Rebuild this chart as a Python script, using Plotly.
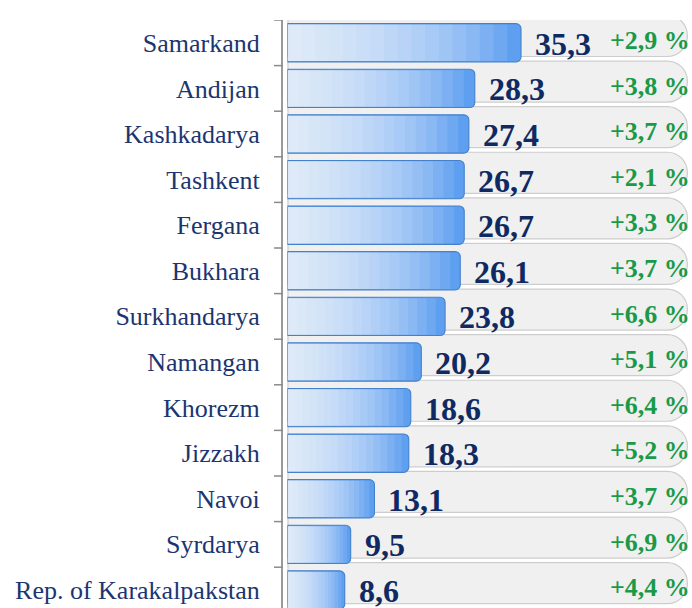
import plotly.graph_objects as go

regions = ["Samarkand", "Andijan", "Kashkadarya", "Tashkent", "Fergana", "Bukhara",
           "Surkhandarya", "Namangan", "Khorezm", "Jizzakh", "Navoi", "Syrdarya",
           "Rep. of Karakalpakstan"]
values = [35.3, 28.3, 27.4, 26.7, 26.7, 26.1, 23.8, 20.2, 18.6, 18.3, 13.1, 9.5, 8.6]
growth = ["+2,9 %", "+3,8 %", "+3,7 %", "+2,1 %", "+3,3 %", "+3,7 %", "+6,6 %",
          "+5,1 %", "+6,4 %", "+5,2 %", "+3,7 %", "+6,9 %", "+4,4 %"]

SERIF = "Liberation Serif, Times New Roman, serif"
pos = list(range(len(regions)))
track_len = 60.5

fig = go.Figure()

# background grey pill tracks
fig.add_trace(go.Bar(
    y=pos, x=[track_len] * len(regions), orientation="h",
    width=0.9, offset=-0.6,
    marker=dict(color="#f0f0f0", line=dict(color="#cdcdcd", width=1.2), cornerradius=20),
    hoverinfo="skip", showlegend=False))

# main blue bars
fig.add_trace(go.Bar(
    y=pos, x=values, orientation="h", width=0.84,
    marker=dict(color="#5e9ff0", line=dict(color="#4580cc", width=1.1), cornerradius=5),
    hoverinfo="skip", showlegend=False))

# white gradient overlays (lighter toward the left)
n_layers = 16
for k in range(1, n_layers + 1):
    frac = 1 - k / (n_layers + 1)
    fig.add_trace(go.Bar(
        y=pos, x=[v * frac for v in values], orientation="h", width=0.8,
        marker=dict(color="rgba(255,255,255,0.10)", line=dict(width=0), cornerradius=0),
        hoverinfo="skip", showlegend=False))

annotations = []
for p, v, g in zip(pos, values, growth):
    annotations.append(dict(
        x=v, y=p + 0.02, xref="x", yref="y", xanchor="left", yanchor="middle",
        xshift=12, showarrow=False,
        text=f"{v:.1f}".replace(".", ","),
        font=dict(family=SERIF, size=32, color="#0f2a62", weight="bold")))
    annotations.append(dict(
        x=1.0, y=p - 0.05, xref="paper", yref="y", xanchor="right", yanchor="middle",
        showarrow=False, text=g,
        font=dict(family=SERIF, size=26, color="#1a9a48", weight="bold")))

fig.update_layout(
    width=692, height=608,
    margin=dict(l=283, r=0, t=20, b=0, autoexpand=False),
    barmode="overlay",
    plot_bgcolor="white", paper_bgcolor="white",
    annotations=annotations,
    xaxis=dict(range=[-0.75, 61.2], visible=False, fixedrange=True, automargin=False),
    yaxis=dict(
        range=[12.395, -0.5], automargin=False,
        tickmode="array", tickvals=pos, ticktext=regions,
        showgrid=False, zeroline=False,
        showline=True, linecolor="#9a9a9a", linewidth=2,
        ticks="", ticklabelstandoff=16,
        tickfont=dict(family=SERIF, size=26, color="#1c3570"),
    ),
)

# tick marks at category boundaries
for b in [p + 0.5 for p in pos[:-1]] + [-0.5]:
    fig.add_shape(type="line", xref="paper", yref="y",
                  x0=-0.022, x1=0, y0=b, y1=b,
                  line=dict(color="#8a8a8a", width=1.5))

fig.write_html("out.html", config={"displayModeBar": False},
               post_script="document.body.style.margin='0';document.body.style.overflow='hidden';")
